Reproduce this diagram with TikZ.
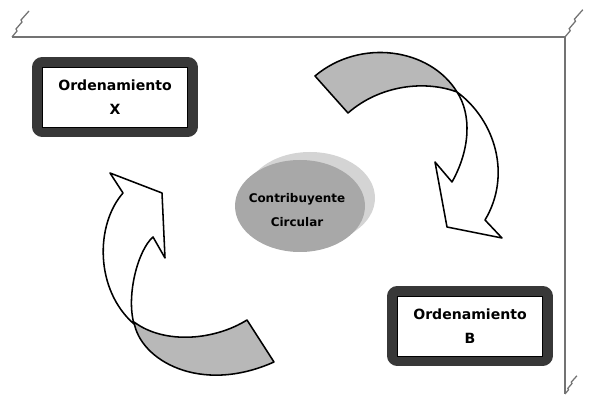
\documentclass[tikz,border=0pt]{standalone}
\usepackage{fontspec}
\setsansfont{DejaVu Sans}
\usetikzlibrary{calc}
\def\cornerjag(#1,#2)[#3]{\draw[frame, shift={(#1,#2)}, scale=#3] (0,0) -- (5,-6) -- (4,-8) -- (10,-15) -- (9,-17) -- (17,-26);}

\tikzset{
  frame/.style={draw=black!55, line width=0.9pt},
  ribbon/.style={draw=black, line width=1.1pt, fill=black!28, line join=round},
  leaf/.style={draw=black, line width=1.1pt, fill=white, line join=round},
  ordbox/.style={draw=black, thin, fill=white, minimum width=3.625cm, minimum height=1.5cm,
    align=center, font=\sffamily\bfseries\fontsize{10}{17}\selectfont,
    preaction={draw=black!78, line width=0.5cm, line join=round}},
  disctext/.style={align=center, font=\sffamily\bfseries\fontsize{8.5}{17}\selectfont}
}

\begin{document}
\begin{tikzpicture}[x=0.025cm, y=-0.025cm]
		%%%%% START %%%%%
		\useasboundingbox (0,0) rectangle (600,406);
		
		% open box frame
		\draw[frame] (12,37) -- (565,37) -- (565,394);
		\cornerjag(12,37)[1]
		\cornerjag(565,37)[1.05]
		\cornerjag(565,394)[0.7]
		
		% disc in the middle
		\fill[black!17] (310,198) ellipse [x radius=65, y radius=46];
		\fill[black!34] (300,206) ellipse [x radius=65, y radius=46];
		\node[disctext] (contrib) at (297,210) {Contribuyente\\Circular};
		
		% boxes
		\node[ordbox] (ordX) at (115,97) {Ordenamiento\\X};
		\node[ordbox] (ordB) at (470,326) {Ordenamiento\\B};
		
		% top right arrow
		\draw[ribbon] (315,76) .. controls (360,38) and (430,48) .. (457,92)
		  .. controls (425,80) and (380,85) .. (348,113) -- cycle;
		\draw[leaf] (457,92) .. controls (495,120) and (512,175) .. (485,220)
		  -- (502,238) -- (447,227) -- (435,162) -- (452,182)
		  .. controls (470,150) and (472,115) .. (457,92) -- cycle;
		
		% bottom left arrow
		\draw[ribbon] (247,320) .. controls (215,340) and (165,345) .. (134,322)
		  .. controls (140,360) and (200,395) .. (274,362) -- cycle;
		\draw[leaf] (134,324) .. controls (95,290) and (95,225) .. (123,193)
		  -- (110,173) -- (162,193) -- (165,258) -- (153,237)
		  .. controls (138,250) and (126,295) .. (134,324) -- cycle;
		%%%%% END %%%%%
\end{tikzpicture}
\end{document}
